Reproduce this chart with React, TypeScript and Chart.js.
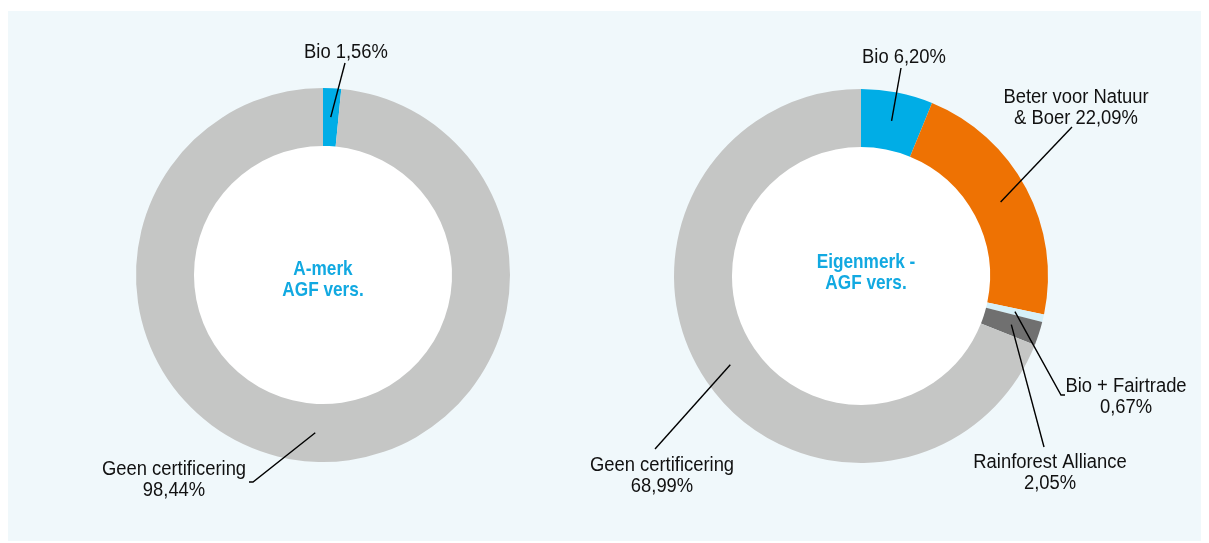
import React, { useEffect, useRef } from "react";
import { Chart, registerables } from "chart.js";

Chart.register(...registerables);

// ---- Data ----
const leftCategories = ["Bio", "Geen certificering"];
const leftValues = [1.56, 98.44];
const leftColors = ["#00ade6", "#c5c6c5"];
const leftTitle = ["A-merk", "AGF vers."];

const rightCategories = [
  "Bio",
  "Beter voor Natuur & Boer",
  "Bio + Fairtrade",
  "Rainforest Alliance",
  "Geen certificering",
];
const rightValues = [6.2, 22.09, 0.67, 2.05, 68.99];
const rightColors = ["#00ade6", "#ee7203", "#d6f0f8", "#707070", "#c5c6c5"];
const rightTitle = ["Eigenmerk -", "AGF vers."];

// label lines: "{v}" is replaced with the formatted value
const leftLabelLines = [["Bio {v}"], ["Geen certificering", "{v}"]];
const rightLabelLines = [
  ["Bio {v}"],
  ["Beter voor Natuur", "& Boer {v}"],
  ["Bio + Fairtrade", "{v}"],
  ["Rainforest Alliance", "{v}"],
  ["Geen certificering", "{v}"],
];

const fmt = (v: number) => v.toFixed(2).replace(".", ",") + "%";

const FONT = '"Liberation Sans", Arial, sans-serif';
const LABEL_SQUEEZE = 0.92;
const TITLE_SQUEEZE = 0.82;

type LabelPos = {
  tx: number; // text center x rel. to chart center
  ty: number; // first line center y
  ex: number; // leader end
  ey: number;
  elbow?: number; // horizontal extension of leader end
};

const leftLabelPos: LabelPos[] = [
  { tx: 23, ty: -223, ex: 22, ey: -212 },
  { tx: -149, ty: 194, ex: -70, ey: 207, elbow: -4 },
];
const rightLabelPos: LabelPos[] = [
  { tx: 43, ty: -219, ex: 40, ey: -208 },
  { tx: 215, ty: -179, ex: 211, ey: -149 },
  { tx: 265, ty: 110, ex: 200, ey: 119, elbow: 4 },
  { tx: 189, ty: 186, ex: 183, ey: 171 },
  { tx: -199, ty: 189, ex: -206, ey: 173 },
];

function squeezedText(
  ctx: CanvasRenderingContext2D,
  t: string,
  x: number,
  y: number,
  s: number
) {
  ctx.save();
  ctx.translate(x, y);
  ctx.scale(s, 1);
  ctx.fillText(t, 0, 0);
  ctx.restore();
}

const labelPlugin = {
  id: "donutLabels",
  beforeDatasetsDraw(chart: any) {
    const meta = chart.getDatasetMeta(0);
    const a = meta.data[0];
    if (!a) return;
    const ctx = chart.ctx;
    ctx.save();
    ctx.fillStyle = "#ffffff";
    ctx.beginPath();
    ctx.arc(a.x, a.y, a.innerRadius + 0.5, 0, Math.PI * 2);
    ctx.fill();
    ctx.restore();
  },
  afterDraw(chart: any, _args: any, opts: any) {
    const ctx = chart.ctx;
    const meta = chart.getDatasetMeta(0);
    const ds = chart.data.datasets[0];
    const first = meta.data[0];
    if (!first) return;
    const cx = first.x;
    const cy = first.y;
    ctx.save();
    // center title
    ctx.fillStyle = "#12a9e1";
    ctx.font = "bold 21px " + FONT;
    ctx.textAlign = "center";
    ctx.textBaseline = "middle";
    opts.title.forEach((t: string, i: number) => {
      squeezedText(ctx, t, cx + opts.titleDx, cy + opts.titleDy + i * 21, TITLE_SQUEEZE);
    });
    // labels & leaders
    meta.data.forEach((arc: any, i: number) => {
      const p: LabelPos = opts.pos[i];
      if (!p) return;
      const { startAngle, endAngle, innerRadius, outerRadius } = arc.getProps(
        ["startAngle", "endAngle", "innerRadius", "outerRadius"],
        true
      );
      const mid = (startAngle + endAngle) / 2;
      const r = (innerRadius + outerRadius) / 2;
      const sx = cx + Math.cos(mid) * r;
      const sy = cy + Math.sin(mid) * r;
      ctx.strokeStyle = "#000";
      ctx.lineWidth = 1.4;
      ctx.beginPath();
      ctx.moveTo(sx, sy);
      ctx.lineTo(cx + p.ex, cy + p.ey);
      if (p.elbow) ctx.lineTo(cx + p.ex + p.elbow, cy + p.ey);
      ctx.stroke();

      ctx.fillStyle = "#111";
      ctx.font = "20px " + FONT;
      const lines: string[] = opts.lines[i];
      lines.forEach((l: string, j: number) => {
        const txt = l.replace("{v}", fmt(ds.data[i]));
        squeezedText(ctx, txt, cx + p.tx, cy + p.ty + j * 21, LABEL_SQUEEZE);
      });
    });
    ctx.restore();
  },
};

function Donut(props: {
  labels: string[];
  values: number[];
  colors: string[];
  lines: string[][];
  pos: LabelPos[];
  title: string[];
  titleDx: number;
  titleDy: number;
  padding: { left: number; right: number; top: number; bottom: number };
}) {
  const ref = useRef<HTMLCanvasElement>(null);
  useEffect(() => {
    if (!ref.current) return;
    const chart = new Chart(ref.current, {
      type: "doughnut",
      data: {
        labels: props.labels,
        datasets: [
          {
            data: props.values,
            backgroundColor: props.colors,
            borderWidth: 0,
            hoverOffset: 0,
          },
        ],
      },
      options: {
        animation: false,
        responsive: false,
        maintainAspectRatio: false,
        cutout: "69%",
        layout: { padding: props.padding },
        plugins: {
          legend: { display: false },
          tooltip: { enabled: false },
          donutLabels: {
            lines: props.lines,
            pos: props.pos,
            title: props.title,
            titleDx: props.titleDx,
            titleDy: props.titleDy,
          },
        } as any,
      },
      plugins: [labelPlugin],
    });
    return () => chart.destroy();
  }, []);
  return (
    <canvas
      ref={ref}
      width={1193}
      height={530}
      style={{ position: "absolute", left: 0, top: 0, width: 1193, height: 530 }}
    />
  );
}

export default function App() {
  return (
    <div
      style={{
        position: "relative",
        marginTop: 3,
        width: 1193,
        height: 530,
        background: "#f0f8fb",
      }}
    >
      <Donut
        labels={leftCategories}
        values={leftValues}
        colors={leftColors}
        lines={leftLabelLines}
        pos={leftLabelPos}
        title={leftTitle}
        titleDx={0}
        titleDy={-6}
        padding={{ left: 128, right: 691, top: 77, bottom: 79 }}
      />
      <Donut
        labels={rightCategories}
        values={rightValues}
        colors={rightColors}
        lines={rightLabelLines}
        pos={rightLabelPos}
        title={rightTitle}
        titleDx={5}
        titleDy={-14}
        padding={{ left: 666, right: 153, top: 78, bottom: 78 }}
      />
    </div>
  );
}
